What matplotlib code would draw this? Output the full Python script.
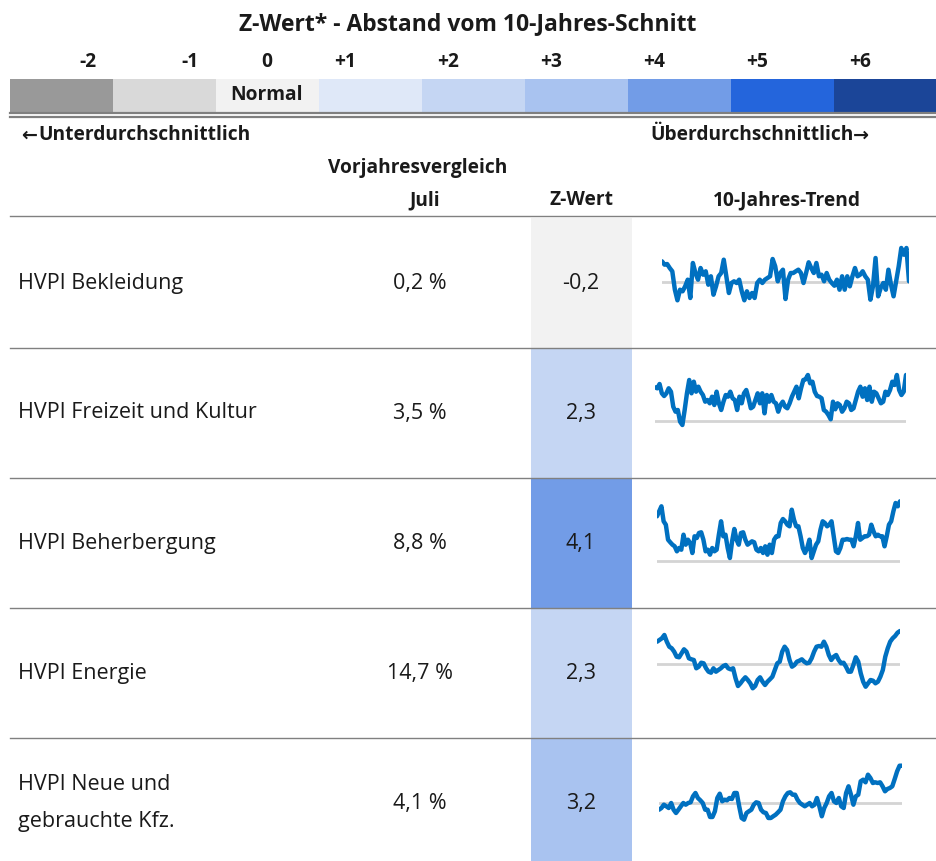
import numpy as np
import matplotlib
matplotlib.use("Agg")
import matplotlib.pyplot as plt
from matplotlib.patches import Rectangle

plt.rcParams['font.family'] = ['Open Sans', 'DejaVu Sans']

# scale of the Z-Wert legend
SCALE_LABELS = ["-2", "-1", "0", "+1", "+2", "+3", "+4", "+5", "+6"]
SCALE_COLORS = ["#999999", "#d9d9d9", "#f2f2f2", "#dfe8f8", "#c5d6f3",
                "#a9c3f0", "#729ce7", "#2465dc", "#1b4598"]

# table rows
ROW_LABELS = ["HVPI Bekleidung", "HVPI Freizeit und Kultur", "HVPI Beherbergung",
              "HVPI Energie", "HVPI Neue und\ngebrauchte Kfz."]
YOY_JULI = [0.2, 3.5, 8.8, 14.7, 4.1]
Z_WERT = [-0.2, 2.3, 4.1, 2.3, 3.2]

# 10-year trend sparklines (deviation from 10-year mean, arbitrary units)
TREND_BEKLEIDUNG = [20.7, 17.3, 18, 14, 10.7, -7.7, -18.3, -7.7, -9.3, -4.3, 2.3, -16, 19, 9, 2.3, 14,
                    7.3, 10.7, -2.7, 5.7, -12.7, -4.3, 5.7, 9, 22.3, 5.7, -11, -1, 0.7, -1, 2.3, -9.3,
                    -18.3, -9.3, -16, -11, -16, -1, 2.3, -1, 2.3, 4, 5.7, 23, 15.7, 0.7, 9, 12.3, -17,
                    2.3, 9, 9, 10.7, 12.3, 9, -1, 9, 19.7, 14, 9, 19, 5.7, 7.3, 0.7, 9, 2.3, -1, -3.7,
                    2.3, -7.7, 5.7, -7.7, 5.7, -4.3, 5.7, 14, 5.7, 7.3, 10.7, 5.7, 2.3, -17.7, -4.3, 24,
                    -14.3, -6, -1, -7.7, 12.3, -2.7, -14.3, 0.7, 15.7, 34, 27.3, 34, 0.7]
TREND_FREIZEIT = [33.7, 32.7, 37, 27.7, 25, 27.7, 32.7, 29.3, 14.3, 9.3, 11, -0.7, -4, 11, 27.7, 41,
                  27.7, 39.3, 29.3, 34.3, 29.3, 26, 19.3, 21, 17.7, 24.3, 16, 29.3, 17.7, 11, 19.3, 26,
                  24.3, 29.3, 22.7, 21, 11, 24.3, 17.7, 27.7, 31, 22.7, 12.7, 14.3, 21, 27.7, 17.7, 27.7,
                  7.7, 26, 19.3, 26, 19.3, 17.7, 9.3, 16, 19.3, 14.3, 12.7, 17.7, 24.3, 29.3, 34.3, 22.7,
                  32.7, 41, 41.7, 46, 37.7, 39.3, 29.3, 25, 24.3, 22.7, 11, 9.3, 6, 1.7, 19.3, 11.7, 17.7,
                  16, 9.3, 12.7, 19.3, 17.7, 11, 12.7, 21, 29.3, 34.3, 24.3, 32.7, 21, 34.3, 19.3, 29.3,
                  27.7, 22.7, 17.7, 19.3, 29.3, 26, 31, 39.3, 36, 46, 31, 26, 29.3, 46]
TREND_BEHERBERGUNG = [44.7, 49.7, 54.7, 39.7, 36.3, 21.3, 18.7, 16.3, 14.7, 9.7, 13, 11.3, 26.3, 16.3,
                      21.3, 18, 8, 24.7, 23, 28, 28.7, 21.3, 9.7, 11.3, 6.3, 13, 9.7, 11.3, 26.3, 39.7,
                      24.7, 26.3, 13, 3, 19.7, 32, 21.3, 16.3, 28, 28.7, 21.3, 16.3, 18, 19.7, 18.7, 11.3,
                      9.7, 13, 8, 14.7, 6.3, 16.3, 8, 21.3, 24.7, 24.7, 38, 42, 39.7, 36.3, 34.7, 51.3,
                      41.3, 34.7, 34.7, 24.7, 13, 8, 13, 21.3, 3, 9.7, 16.3, 19.7, 31.3, 39.7, 38, 34.7,
                      36.3, 39.7, 24.7, 9.7, 8, 13, 21.3, 21.3, 22, 21.3, 21.3, 14.7, 24.7, 38, 21.3, 23,
                      24.7, 24.7, 26.3, 36.3, 29.7, 24.7, 26.3, 24.7, 24.7, 14.7, 24.7, 36.3, 39.7, 49.7,
                      58, 54.7, 59.7]
TREND_ENERGIE = [22.3, 24, 25.7, 29, 22.3, 17.3, 15.7, 12.3, 7.3, 6.7, 10.7, 14.7, 12.3, 5.7, 4.7, 4,
                 -4.3, -2.7, 1.3, 0.7, -4.3, -7.7, -8.7, -4.3, -7.7, -6, -4.3, -2, -1, -4.3, -5.3, -4.3,
                 -14.3, -22, -19.3, -16, -13.3, -16, -19.3, -24.3, -22, -16, -13.3, -17.7, -21, -17.7,
                 -15.3, -12.7, -6, 0.7, 2.3, 12.3, 17.3, 14, 4, -2.7, -1, 2.3, 3.3, 4.7, 2.3, 0.7, 1.3,
                 5.7, 12.3, 17.3, 18, 17.3, 22.3, 17.3, 9, 4, 7.3, 9, 4, 0.7, 1.3, -2.7, -7.7, -7.7, -1,
                 6.7, 2.3, -9.3, -17.7, -22.7, -19.3, -16, -16.7, -19.3, -17.7, -12.7, -6, 7.3, 15.7,
                 22.3, 25.7, 28, 31.3, 33]
TREND_KFZ = [-6.7, -5, -1.7, -3.3, -5, 0, -6.7, -10, -6.7, -3.3, 0, -1.7, 0, 0.7, 6.7, 10, 5, 2.7, 0,
             -6.7, -6.7, -14, -14, -8.3, 5, 9.3, 1.7, 3.3, 2.7, 5, 4, 10, 10, -3.3, -15, -16.7, -10,
             -8.3, -6.7, -1.7, 0.7, 0, -6.7, -9.3, -10, -15, -15, -13.3, -11.7, -9.3, -6.7, 1.7, 6.7,
             10, 10.7, 8.3, 8.3, 3.3, 0, -1.7, -3.3, -1.7, 0, -3.3, -1.7, 5, -3.3, -13.3, -5, 0, 6.7,
             10, 1.7, 0, 5, -3.3, -5, 10, 16.7, 8.3, -1.7, 6.7, 8.3, 21.7, 23.3, 20.7, 28.3, 25, 20,
             20.7, 20, 20.7, 16.7, 11.7, 14, 15, 16.7, 24, 31.7, 37.3, 37.3]
TRENDS = [TREND_BEKLEIDUNG, TREND_FREIZEIT, TREND_BEHERBERGUNG, TREND_ENERGIE, TREND_KFZ]

W, H = 936, 861
fig = plt.figure(figsize=(W / 100, H / 100), dpi=100)
ax = fig.add_axes([0, 0, 1, 1])
ax.set_xlim(0, W)
ax.set_ylim(H, 0)
ax.axis("off")

TXT = "#1a1a1a"
BOLD = 13.8
REG = 15.5

# legend scale
ax.text(468, 24, "Z-Wert* - Abstand vom 10-Jahres-Schnitt", ha="center", va="center",
        fontsize=16.5, fontweight="bold", color=TXT)
label_x = [88, 190, 267, 345, 448, 551, 654, 757, 860]
seg_w = 103
for i, (lab, col) in enumerate(zip(SCALE_LABELS, SCALE_COLORS)):
    ax.add_patch(Rectangle((10 + i * seg_w, 79), seg_w + 1, 33, facecolor=col, edgecolor="none"))
    ax.text(label_x[i], 62, lab, ha="center", va="center", fontsize=BOLD, fontweight="bold", color=TXT)
ax.text(267, 95, "Normal", ha="center", va="center", fontsize=BOLD, fontweight="bold", color=TXT)
ax.plot([10, W], [113, 113], color="#7f7f7f", lw=1.6)
ax.plot([10, W], [117, 117], color="#7f7f7f", lw=1.6)
ax.text(21, 135, "\u2190", ha="left", va="center", fontsize=BOLD, fontweight="bold", color=TXT,
        family=["DejaVu Sans"])
ax.text(38, 135, "Unterdurchschnittlich", ha="left", va="center", fontsize=BOLD,
        fontweight="bold", color=TXT)
ax.text(854, 135, "\u00dcberdurchschnittlich", ha="right", va="center", fontsize=BOLD,
        fontweight="bold", color=TXT)
ax.text(853, 135, "\u2192", ha="left", va="center", fontsize=BOLD, fontweight="bold", color=TXT,
        family=["DejaVu Sans"])

# column headers
ax.text(418, 168, "Vorjahresvergleich", ha="center", va="center", fontsize=BOLD, fontweight="bold", color=TXT)
ax.text(425, 200, "Juli", ha="center", va="center", fontsize=BOLD, fontweight="bold", color=TXT)
ax.text(581, 200, "Z-Wert", ha="center", va="center", fontsize=BOLD, fontweight="bold", color=TXT)
ax.text(787, 200, "10-Jahres-Trend", ha="center", va="center", fontsize=BOLD, fontweight="bold", color=TXT)
ax.plot([10, W], [216, 216], color="#808080", lw=1.0)

# rows
row_top = [218, 348, 478, 608, 738]
row_h = 130
for i, (lab, yoy, z) in enumerate(zip(ROW_LABELS, YOY_JULI, Z_WERT)):
    top = row_top[i]
    bottom = top + row_h if i < 4 else H
    cy = top + 65
    zi = int(round(z)) + 2
    ax.add_patch(Rectangle((531, top), 101, bottom - top, facecolor=SCALE_COLORS[zi], edgecolor="none"))
    if i > 0:
        ax.plot([10, W], [top, top], color="#808080", lw=1.0)
    if "\n" in lab:
        l1, l2 = lab.split("\n")
        ax.text(18, cy - 19, l1, ha="left", va="center", fontsize=REG, color=TXT)
        ax.text(18, cy + 19, l2, ha="left", va="center", fontsize=REG, color=TXT)
    else:
        ax.text(18, cy, lab, ha="left", va="center", fontsize=REG, color=TXT)
    ax.text(420, cy, f"{yoy:.1f} %".replace(".", ","), ha="center", va="center", fontsize=REG, color=TXT)
    ax.text(581, cy, f"{z:.1f}".replace(".", ","), ha="center", va="center", fontsize=REG, color=TXT)

# sparklines: (left px, right px, baseline px)
spark_pos = [(662, 909, 282), (655, 906, 421), (657, 900, 561), (657, 900, 664), (659, 902, 803)]
for (x0, x1, base), series in zip(spark_pos, TRENDS):
    top_px, bot_px = base - 70, base + 50
    sax = fig.add_axes([x0 / W, 1 - bot_px / H, (x1 - x0) / W, (bot_px - top_px) / H])
    sax.set_xlim(0, len(series) - 1)
    sax.set_ylim(-(bot_px - base), base - top_px)
    sax.axhline(0, color="#d4d4d4", lw=2.0, zorder=1)
    sax.plot(np.arange(len(series)), series, color="#0070c0", lw=3.2, zorder=2,
             solid_joinstyle="round", solid_capstyle="round")
    sax.axis("off")
    sax.patch.set_alpha(0)

fig.savefig("out.png", dpi=100)
